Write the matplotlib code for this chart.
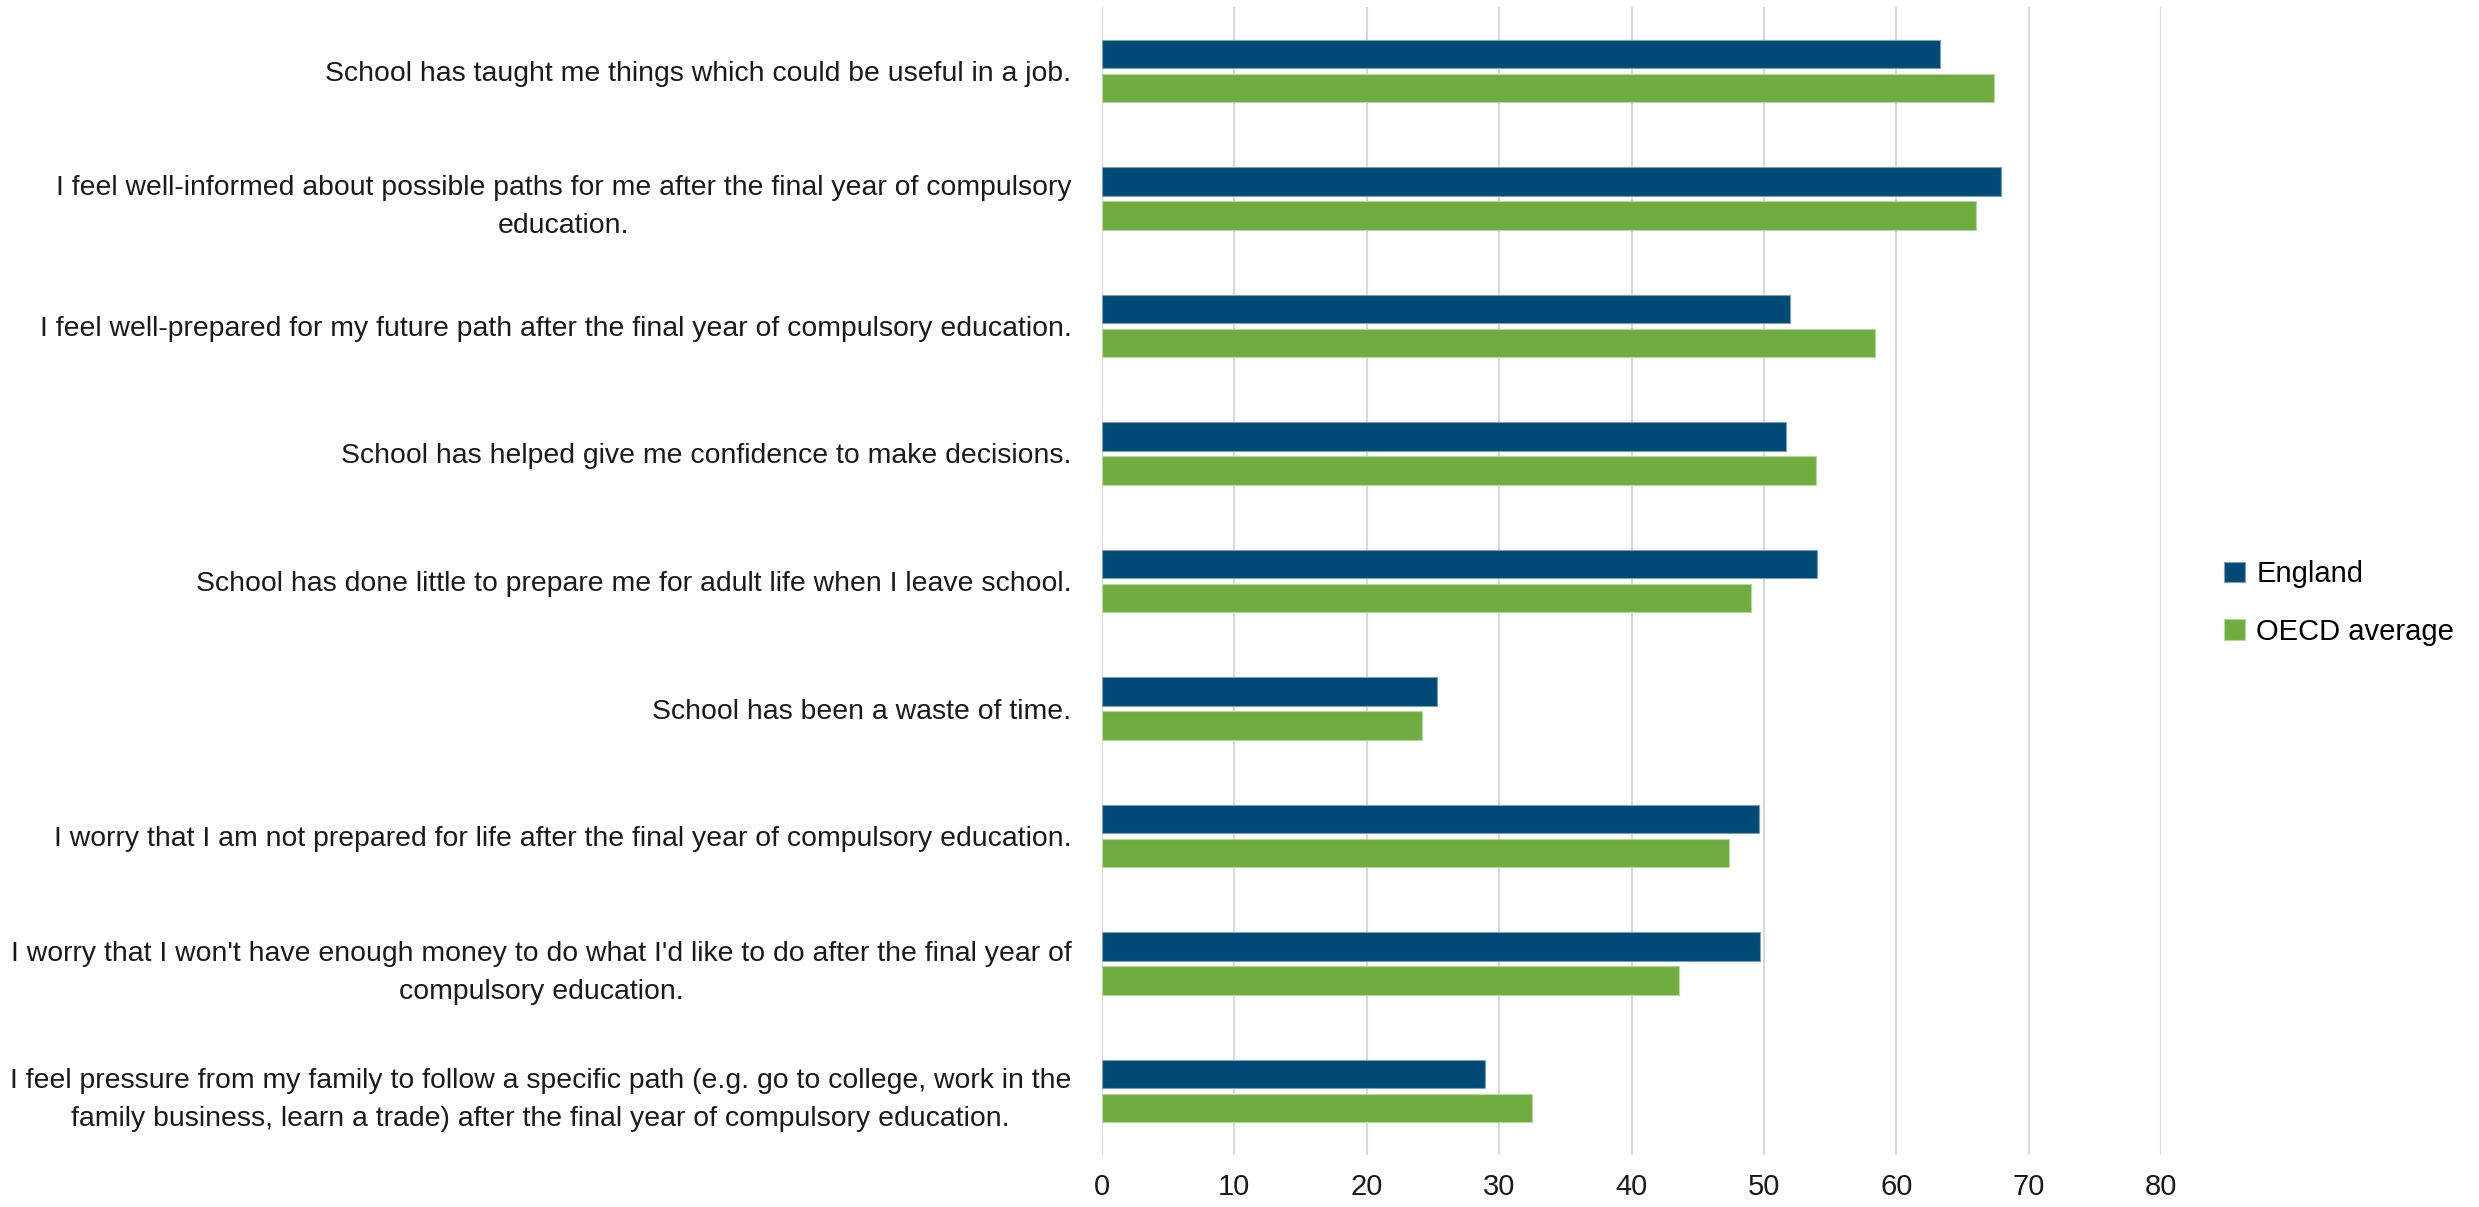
import matplotlib
matplotlib.use("Agg")
import matplotlib.pyplot as plt
import numpy as np

categories = [
    "School has taught me things which could be useful in a job.",
    "I feel well-informed about possible paths for me after the final year of compulsory\neducation.",
    "I feel well-prepared for my future path after the final year of compulsory education.",
    "School has helped give me confidence to make decisions.",
    "School has done little to prepare me for adult life when I leave school.",
    "School has been a waste of time.",
    "I worry that I am not prepared for life after the final year of compulsory education.",
    "I worry that I won't have enough money to do what I'd like to do after the final year of\ncompulsory education.",
    "I feel pressure from my family to follow a specific path (e.g. go to college, work in the\nfamily business, learn a trade) after the final year of compulsory education.",
]
england = [63.3, 67.9, 52.0, 51.7, 54.0, 25.3, 49.6, 49.7, 28.9]
oecd = [67.4, 66.0, 58.4, 53.9, 49.0, 24.2, 47.4, 43.6, 32.5]
series_names = ["England", "OECD average"]
xticks = [0, 10, 20, 30, 40, 50, 60, 70, 80]

plt.rcParams['font.family'] = ['Liberation Sans', 'DejaVu Sans']

fig = plt.figure(figsize=(24.79, 12.07), dpi=100)
ax = fig.add_axes([1102/2479, 1 - 1155/1207, (2161-1102)/2479, (1155-7)/1207])

y = np.arange(len(categories))
h = 0.223
off = 0.133
c1 = '#004A76'
c2 = '#70AD40'
ax.barh(y - off, england, height=h, color=c1, edgecolor='#7f9fb5', linewidth=0.8, label=series_names[0], zorder=3)
ax.barh(y + off, oecd, height=h, color=c2, edgecolor='#b5d89f', linewidth=0.8, label=series_names[1], zorder=3)

ax.set_xlim(0, 80)
ax.set_ylim(len(categories) - 0.5, -0.5)
ax.set_xticks(xticks)
ax.set_xticklabels([str(t) for t in xticks], fontsize=21, color='#1a1a1a')
ax.set_yticks(y)
ax.set_yticklabels(categories, fontsize=20.4, color='#1a1a1a', multialignment='center',
                   linespacing=1.6)
ax.tick_params(axis='both', length=0)
ax.tick_params(axis='y', pad=22)
ax.tick_params(axis='x', pad=13)
ax.grid(axis='x', color='#d9d9d9', linewidth=1.5, zorder=0)
ax.set_axisbelow(True)
for s in ax.spines.values():
    s.set_visible(False)

leg = fig.legend(loc='center left', bbox_to_anchor=(2198/2479, 1 - 603/1207), frameon=False,
                 fontsize=21, handlelength=0.7, handleheight=0.7, handletextpad=0.4, labelspacing=1.0)

fig.savefig("out.png", dpi=100)
